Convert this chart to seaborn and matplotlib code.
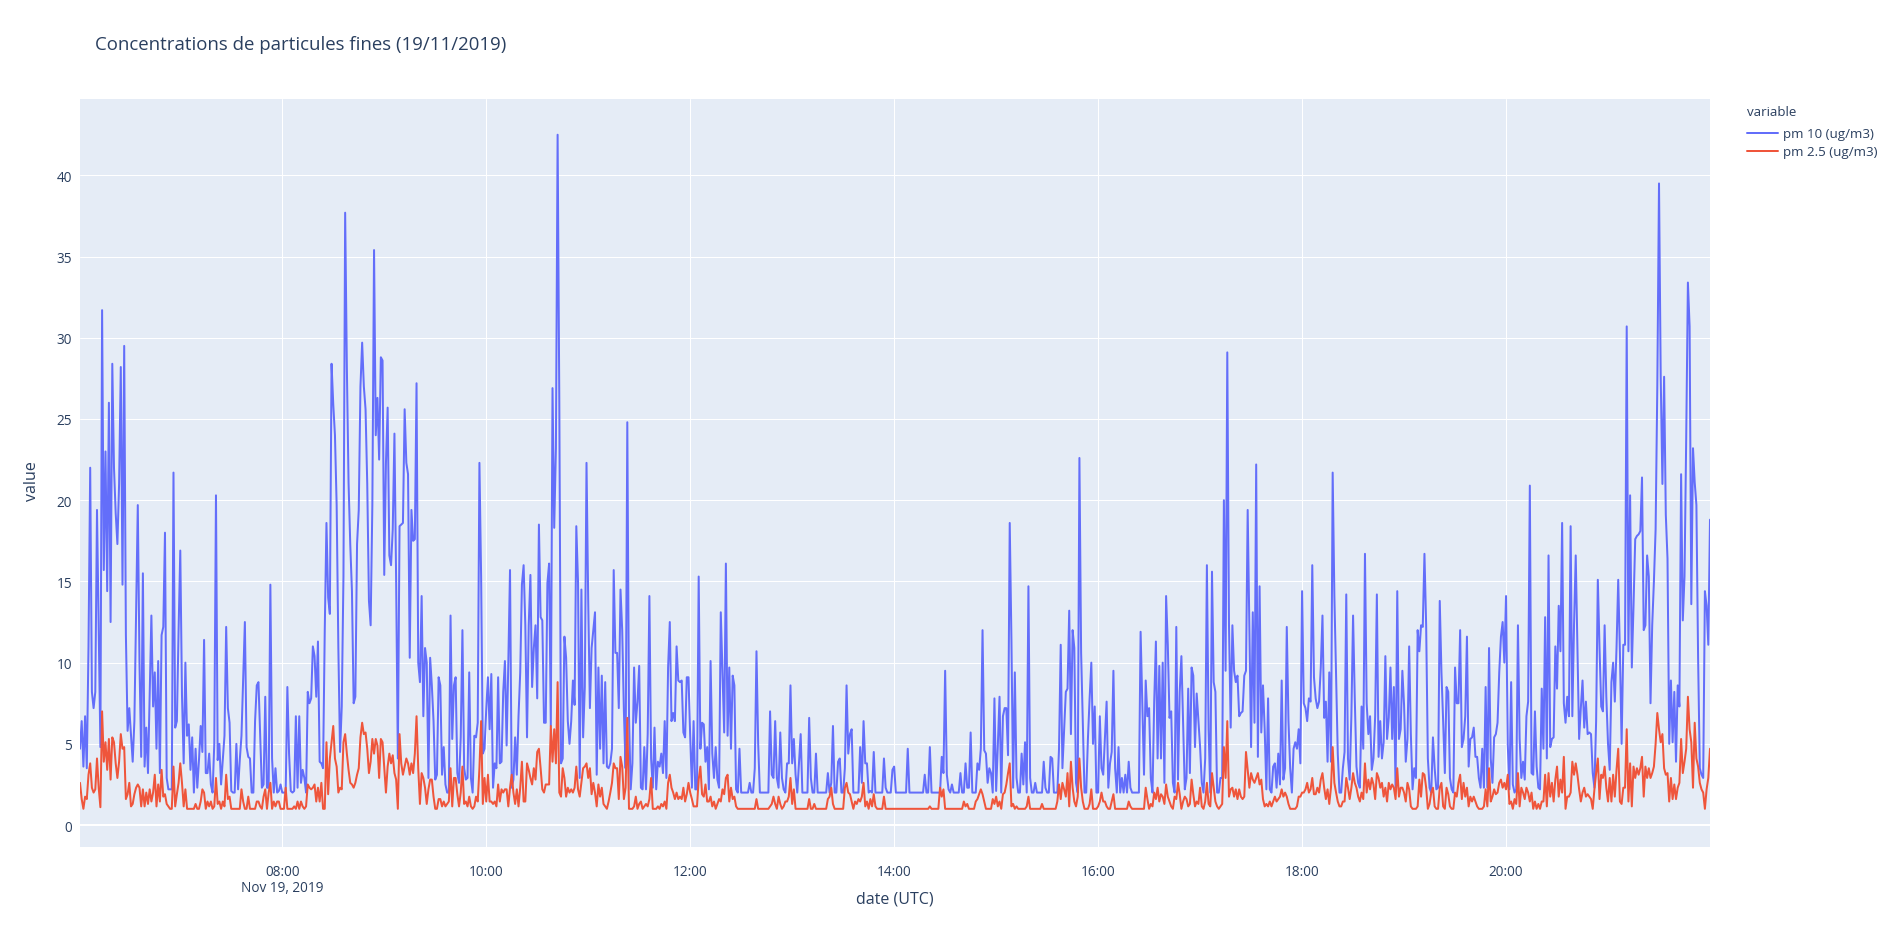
import numpy as np
import pandas as pd
import matplotlib
matplotlib.use("Agg")
import matplotlib.pyplot as plt
import matplotlib.dates as mdates
from matplotlib.ticker import FixedLocator, FixedFormatter
import seaborn as sns

# ---------------- data ----------------
title = "Concentrations de particules fines (19/11/2019)"
series_names = ["pm 10 (ug/m3)", "pm 2.5 (ug/m3)"]
start_time = "2019-11-19 06:01"   # one reading per minute
tick_hours = [8, 10, 12, 14, 16, 18, 20]
tick_labels = ["08:00\nNov 19, 2019", "10:00", "12:00", "14:00", "16:00", "18:00", "20:00"]
y_ticks = [0, 5, 10, 15, 20, 25, 30, 35, 40]

pm10 = [
    4.7, 6.4, 3.6, 6.7, 3.5, 11, 22, 8.2, 7.2, 8.2,
    19.4, 12, 4.8, 31.7, 15.7, 23, 14.4, 26, 12.5, 28.4,
    22, 19.2, 17.3, 21, 28.2, 14.8, 29.5, 11.7, 5.8, 7.2,
    5.5, 3.9, 6.4, 13, 19.7, 10, 4.2, 15.5, 3.6, 6,
    3.2, 8, 12.9, 7.3, 9.4, 4.7, 10.1, 3.2, 11.7, 12.2,
    18, 2.9, 2.2, 2.2, 2.2, 21.7, 6, 6.4, 12, 16.9,
    8, 3.8, 10, 5.5, 6.2, 3.4, 5.4, 2.0, 4.7, 2.3,
    4, 6.1, 4.5, 11.4, 3.2, 3.2, 4.4, 2.5, 2.0, 5,
    20.3, 4, 5, 2.5, 4, 5.5, 12.2, 7.2, 6.3, 2.1,
    2.0, 2.0, 5, 2.2, 4, 5.5, 9, 12.5, 4.8, 4.2,
    4.1, 2.0, 2.0, 6.4, 8.6, 8.8, 5.6, 2.3, 2.5, 7.9,
    2.3, 2.3, 14.8, 4.1, 2.0, 3.5, 2.0, 2.1, 2.5, 2.0,
    2.0, 2.0, 8.5, 4.4, 2.1, 2.0, 2.1, 6.7, 2.3, 6.7,
    2.6, 3.4, 2.9, 2.0, 8.2, 7.5, 7.8, 11.0, 10.4, 7.9,
    11.3, 3.9, 3.8, 3.5, 12, 18.6, 14.0, 13.0, 28.4, 25.9,
    24.0, 19.7, 10.9, 4.5, 7.3, 15.3, 37.7, 28.2, 21.1, 17.3,
    14.4, 7.5, 7.9, 17.3, 19.4, 27.0, 29.7, 27.0, 25.6, 21.0,
    13.8, 12.3, 19.7, 35.4, 24.0, 26.3, 22.5, 28.8, 28.6, 15.4,
    22.3, 25.7, 16.6, 16.0, 18.2, 24.1, 15.0, 4.1, 18.4, 18.5,
    18.6, 25.6, 22.3, 21.6, 10.3, 19.4, 17.5, 17.6, 27.2, 10.0,
    8.8, 14.1, 6.7, 10.9, 10.0, 2.9, 10.3, 8.6, 6.4, 2.8,
    3.1, 9.1, 8.6, 3.1, 4.8, 2.5, 2.0, 2.0, 12.9, 5.3,
    8.6, 9.1, 3.2, 2.6, 5.4, 12.0, 3.5, 2.8, 2.9, 9.4,
    2.9, 2.0, 5.5, 5.4, 6.3, 22.3, 15.3, 4.4, 4.7, 7.1,
    9.1, 5.9, 9.3, 2.3, 3.8, 3.5, 9.1, 3.8, 3.9, 8.2,
    10.1, 4.9, 10, 15.7, 2.3, 2.8, 5.4, 3.1, 6.7, 9.4,
    14.8, 16.0, 12.3, 5.4, 12.3, 15.4, 8.5, 10.9, 12.3, 7.8,
    18.5, 12.8, 12.6, 6.3, 6.3, 14.9, 16.1, 6.1, 26.9, 18.3,
    23.2, 42.5, 26.0, 3.8, 4.1, 11.6, 10.3, 6.4, 5.0, 6.4,
    8.9, 7.4, 18.4, 15.0, 2.9, 14.5, 5.4, 8.5, 22.3, 13.8,
    7.2, 10.9, 12.0, 13.1, 3.1, 9.7, 4.7, 9.2, 3.8, 8.8,
    3.6, 3.5, 3.8, 4.7, 15.7, 10.6, 10.6, 7.2, 14.5, 12.0,
    7.0, 3.5, 24.8, 6.7, 2.2, 3.8, 9.7, 6.3, 7.6, 9.8,
    2.3, 2.2, 4.8, 2.2, 5.6, 14.1, 4.1, 2.3, 6.0, 2.2,
    3.9, 3.6, 4.4, 3.2, 6.4, 2.9, 9.7, 12.5, 6.4, 6.9,
    6.4, 11.0, 8.9, 8.8, 8.9, 5.7, 5.4, 9.1, 9.1, 5.5,
    2.3, 6.4, 2.2, 2.2, 15.3, 4.7, 6.3, 6.2, 3.9, 4.8,
    2.2, 10.1, 4.4, 2.9, 4.8, 2.8, 2.3, 13.1, 9.4, 5.7,
    16.1, 5.5, 9.7, 4.7, 9.2, 8.6, 2.2, 2.0, 4.7, 2.0,
    2.0, 2.0, 2.0, 2.0, 2.6, 2.0, 2.0, 3.5, 10.7, 5.0,
    2.0, 2.0, 2.0, 2.0, 2.0, 2.0, 7.0, 3.1, 2.9, 6.4,
    2.9, 2.3, 5.7, 2.9, 2.2, 2.0, 3.8, 3.8, 8.6, 3.8,
    5.3, 3.1, 2.0, 3.8, 5.6, 2.0, 2.0, 2.0, 2.0, 6.6,
    2.9, 2.0, 2.0, 4.4, 2.0, 2.0, 2.0, 2.0, 2.0, 2.0,
    3.2, 2.0, 2.6, 6.1, 2.0, 2.0, 3.9, 4.1, 2.0, 2.0,
    3.5, 8.6, 4.4, 5.6, 5.9, 2.0, 2.0, 2.0, 2.0, 4.8,
    2.6, 6.4, 3.8, 3.8, 2.0, 2.1, 2.0, 4.5, 2.0, 2.0,
    2.0, 2.0, 2.0, 4.1, 2.3, 2.0, 2.0, 2.0, 3.4, 3.6,
    2.0, 2.0, 2.0, 2.0, 2.0, 2.0, 2.0, 4.7, 2.0, 2.0,
    2.0, 2.0, 2.0, 2.0, 2.0, 2.0, 2.0, 3.1, 2.0, 2.0,
    4.8, 2.0, 2.0, 2.0, 2.0, 2.0, 2.0, 4.2, 3.2, 9.5,
    3.1, 2.2, 2.0, 2.5, 2.0, 2.0, 2.0, 2.0, 3.2, 2.0,
    2.0, 3.8, 2.3, 2.3, 5.7, 2.0, 2.0, 2.0, 3.8, 3.4,
    4.7, 12.0, 4.6, 4.4, 2.6, 3.5, 3.2, 2.0, 7.8, 2.1,
    4.9, 7.9, 2.0, 6.7, 7.2, 7.2, 4.3, 18.6, 11.4, 2.3,
    9.4, 2.9, 2.0, 2.0, 4.4, 2.5, 5.1, 2.0, 14.7, 2.9,
    2.0, 2.0, 2.6, 2.0, 2.0, 2.0, 2.0, 3.9, 2.3, 2.0,
    2.0, 4.2, 4.1, 2.0, 2.0, 2.0, 4.7, 11.1, 3.5, 5.9,
    8.2, 8.4, 13.2, 5.6, 12.0, 10.9, 2.6, 2.0, 22.6, 10.6,
    6.4, 2.0, 2.0, 5.3, 7.8, 10.0, 5.0, 7.3, 2.0, 2.0,
    6.7, 3.5, 3.1, 5.3, 7.6, 2.3, 3.8, 4.5, 9.5, 3.5,
    2.0, 4.8, 2.0, 2.9, 2.0, 3.1, 2.0, 3.9, 2.3, 2.0,
    2.0, 2.0, 2.0, 2.0, 11.9, 7.6, 3.1, 8.9, 6.7, 7.2,
    2.9, 2.0, 7.6, 11.3, 4.1, 9.8, 4.1, 10.0, 2.6, 14.1,
    11.1, 6.6, 7.0, 2.6, 2.0, 12.2, 2.8, 8.2, 10.4, 6.4,
    2.2, 2.9, 8.4, 3.2, 9.7, 9.2, 4.8, 8.1, 6.4, 4.8,
    2.6, 2.0, 4.1, 16.0, 5.9, 2.0, 15.6, 8.8, 8.2, 2.0,
    2.0, 2.9, 2.9, 20.0, 9.5, 29.1, 12.3, 6.0, 12.3, 9.5,
    8.8, 9.2, 6.7, 6.9, 7.0, 9.2, 9.5, 19.4, 12.3, 4.8,
    13.1, 6.3, 22.2, 4.2, 14.7, 5.7, 8.6, 5.9, 2.2, 7.8,
    2.2, 2.0, 3.6, 3.8, 2.3, 4.4, 2.5, 8.9, 2.8, 3.5,
    12.2, 6.4, 3.5, 2.0, 4.7, 5.1, 4.7, 5.9, 3.8, 14.4,
    7.5, 7.2, 6.4, 7.8, 7.6, 16.0, 9.1, 7.8, 7.2, 7.6,
    9.7, 12.9, 6.6, 7.6, 3.9, 9.4, 3.9, 21.7, 14.1, 9.4,
    4.4, 2.0, 2.0, 3.5, 4.5, 14.2, 4.1, 2.8, 6.7, 12.9,
    7.8, 3.6, 2.6, 2.3, 7.3, 4.7, 16.7, 7.5, 5.6, 6.7,
    3.4, 4.1, 6.7, 14.2, 4.2, 6.4, 4.1, 5.1, 10.4, 5.3,
    6.6, 9.7, 5.3, 8.5, 2.3, 14.4, 5.3, 5.9, 9.5, 7.4,
    3.9, 5.3, 11.0, 5.6, 2.2, 3.5, 2.9, 12.0, 10.7, 12.3,
    12.2, 16.7, 12.3, 4.1, 2.3, 2.0, 5.4, 3.5, 2.2, 2.3,
    13.8, 9.4, 6.4, 3.2, 8.5, 8.2, 2.9, 2.2, 2.0, 9.7,
    7.5, 7.5, 12.0, 4.8, 5.3, 6.7, 11.6, 3.6, 5.3, 5.4,
    6.0, 4.2, 4.2, 2.9, 2.3, 4.7, 2.3, 8.5, 2.3, 10.9,
    4.1, 2.6, 5.4, 5.6, 6.3, 9.4, 11.6, 12.5, 10.0, 14.1,
    5.0, 2.2, 8.8, 2.5, 2.0, 2.2, 12.3, 5.3, 2.9, 3.9,
    2.8, 6.7, 7.6, 20.9, 3.2, 3.1, 7.0, 3.6, 2.3, 2.2,
    8.4, 4.7, 12.8, 4.1, 16.6, 4.8, 5.3, 5.4, 11.0, 8.4,
    13.5, 10.7, 18.6, 7.5, 6.3, 7.9, 6.7, 18.4, 6.7, 12.3,
    16.6, 11.1, 5.3, 7.2, 8.9, 6.0, 7.6, 5.6, 5.7, 5.6,
    3.2, 2.3, 6.4, 15.1, 10.9, 7.3, 7.0, 12.3, 7.9, 5.0,
    3.4, 8.8, 10.0, 7.6, 10.9, 15.1, 10.6, 5.0, 11.1, 11.1,
    30.7, 10.7, 20.3, 9.7, 13.5, 17.6, 17.8, 17.9, 18.1, 21.4,
    12.0, 12.3, 16.6, 15.3, 7.5, 12.3, 15.0, 18.2, 27.0, 39.5,
    27.6, 21.0, 27.6, 19.1, 16.4, 5.0, 8.9, 5.1, 8.2, 3.9,
    8.6, 7.3, 21.6, 12.6, 15.3, 23.8, 33.4, 30.7, 13.6, 23.2,
    21.1, 19.7, 10.3, 3.5, 3.1, 2.9, 14.4, 13.5, 11.1, 18.8,
]

pm25 = [
    2.6, 1.6, 1.0, 1.75, 1.6, 3.1, 3.8, 2.3, 2.0, 2.2,
    4.1, 2.3, 1.1, 7.0, 3.9, 5.1, 3.4, 5.3, 2.8, 5.4,
    5.1, 3.8, 2.9, 3.9, 5.6, 4.7, 4.8, 1.6, 1.9, 2.6,
    1.15, 1.3, 1.9, 2.3, 2.5, 2.3, 1.15, 2.2, 1.15, 2.0,
    1.3, 2.2, 1.45, 2.0, 3.1, 1.15, 2.5, 1.45, 3.4, 1.75,
    1.9, 1.3, 1.15, 1.0, 1.0, 3.6, 1.15, 1.9, 2.6, 3.8,
    2.6, 1.15, 2.2, 1.0, 1.0, 1.0, 1.0, 1.0, 1.3, 1.0,
    1.0, 1.45, 2.2, 2.0, 1.0, 1.45, 1.15, 1.45, 1.0, 1.15,
    2.9, 1.3, 1.45, 1.0, 1.45, 1.15, 3.1, 1.6, 1.75, 1.0,
    1.0, 1.0, 1.0, 1.0, 1.0, 2.2, 1.45, 1.0, 1.0, 1.75,
    1.0, 1.0, 1.0, 1.0, 1.45, 1.45, 1.15, 1.0, 1.75, 2.2,
    1.0, 2.0, 2.6, 1.0, 1.45, 1.15, 1.45, 1.45, 1.0, 1.0,
    1.0, 2.3, 1.0, 1.0, 1.0, 1.0, 1.15, 1.0, 1.45, 1.0,
    1.45, 1.15, 1.0, 1.15, 2.5, 2.3, 2.2, 2.3, 2.5, 1.45,
    2.3, 1.45, 2.6, 1.0, 1.0, 5.1, 1.9, 4.1, 5.1, 6.1,
    4.1, 3.6, 2.0, 2.3, 2.2, 5.1, 5.6, 4.4, 3.4, 2.6,
    2.5, 2.3, 2.6, 3.1, 3.5, 5.4, 6.3, 5.6, 5.7, 4.7,
    3.2, 3.9, 5.3, 4.4, 5.3, 4.9, 2.9, 5.3, 5.1, 3.5,
    2.0, 3.6, 4.4, 3.8, 4.3, 3.2, 2.8, 1.0, 5.6, 3.8,
    3.1, 3.6, 4.1, 3.8, 3.1, 3.8, 3.2, 4.4, 6.7, 3.5,
    1.3, 3.2, 2.9, 2.3, 1.3, 2.2, 2.8, 2.8, 1.75, 1.0,
    1.0, 1.6, 1.6, 1.15, 1.45, 1.15, 1.3, 1.45, 3.5, 1.15,
    2.9, 2.9, 1.9, 1.15, 2.0, 3.6, 1.3, 1.45, 1.15, 1.75,
    1.15, 1.0, 1.15, 1.75, 1.45, 3.5, 6.4, 1.3, 2.9, 1.45,
    3.1, 1.45, 1.45, 1.3, 1.45, 1.15, 2.5, 1.45, 2.2, 2.0,
    2.2, 2.2, 1.15, 2.3, 3.1, 2.0, 1.3, 2.2, 1.15, 2.3,
    3.9, 1.45, 1.45, 3.8, 3.4, 2.9, 2.5, 3.5, 2.8, 4.5,
    4.7, 3.5, 2.2, 2.0, 2.5, 2.5, 2.5, 6.1, 3.9, 5.9,
    3.8, 8.8, 2.0, 1.75, 3.5, 2.9, 1.75, 2.3, 2.0, 2.2,
    2.0, 2.3, 3.6, 2.2, 1.75, 2.6, 3.5, 3.6, 3.8, 2.9,
    3.5, 1.9, 2.6, 2.0, 1.15, 2.5, 1.75, 2.3, 1.3, 1.15,
    1.0, 1.45, 2.0, 2.6, 3.8, 3.5, 3.5, 1.6, 4.2, 3.6,
    1.6, 2.3, 6.6, 1.0, 1.0, 1.0, 1.15, 1.75, 1.0, 1.3,
    1.45, 1.0, 1.15, 1.3, 1.15, 1.6, 2.9, 1.0, 1.0, 1.0,
    1.15, 1.0, 1.3, 1.15, 1.45, 1.0, 2.6, 3.1, 2.3, 2.0,
    1.6, 2.0, 1.6, 1.75, 1.6, 2.3, 1.45, 1.9, 2.6, 2.0,
    1.6, 1.15, 1.15, 1.15, 2.8, 3.6, 1.9, 1.75, 2.5, 1.45,
    1.45, 1.75, 1.15, 1.45, 1.0, 1.3, 1.6, 1.45, 2.2, 1.9,
    2.9, 3.1, 1.45, 2.3, 1.6, 1.75, 1.15, 1.0, 1.0, 1.0,
    1.0, 1.0, 1.0, 1.0, 1.0, 1.0, 1.0, 1.0, 1.6, 1.0,
    1.0, 1.0, 1.0, 1.0, 1.0, 1.0, 1.15, 1.3, 1.75, 1.3,
    1.0, 1.75, 1.3, 1.0, 1.15, 1.45, 1.45, 1.75, 2.9, 1.3,
    2.2, 1.0, 1.0, 1.0, 1.0, 1.0, 1.0, 1.0, 1.0, 1.6,
    1.0, 1.0, 1.3, 1.0, 1.0, 1.0, 1.0, 1.0, 1.0, 1.0,
    1.6, 1.75, 2.3, 1.3, 1.0, 1.0, 1.0, 1.0, 1.0, 1.0,
    2.3, 2.6, 2.0, 1.9, 1.45, 1.0, 1.45, 1.3, 1.6, 1.45,
    1.75, 2.6, 1.15, 1.45, 1.0, 1.6, 1.15, 1.9, 1.15, 1.0,
    1.0, 1.0, 1.0, 1.75, 1.0, 1.0, 1.0, 1.0, 1.0, 1.0,
    1.0, 1.0, 1.0, 1.0, 1.0, 1.0, 1.0, 1.0, 1.0, 1.0,
    1.0, 1.0, 1.0, 1.0, 1.0, 1.0, 1.0, 1.0, 1.0, 1.0,
    1.15, 1.0, 1.0, 1.0, 1.0, 1.0, 2.3, 1.75, 2.2, 1.0,
    1.0, 1.0, 1.0, 1.0, 1.0, 1.0, 1.0, 1.0, 1.0, 1.0,
    1.45, 1.15, 1.3, 1.0, 1.0, 1.0, 1.0, 1.45, 1.6, 1.9,
    2.2, 1.9, 1.45, 1.0, 1.0, 1.0, 1.0, 1.6, 1.3, 1.75,
    1.15, 1.45, 1.0, 1.9, 2.0, 2.5, 3.2, 3.8, 1.15, 1.3,
    1.0, 1.15, 1.0, 1.0, 1.0, 1.0, 1.0, 1.15, 1.75, 1.0,
    1.0, 1.0, 1.0, 1.0, 1.0, 1.0, 1.3, 1.0, 1.0, 1.0,
    1.0, 1.0, 1.0, 1.0, 1.0, 1.45, 2.5, 1.6, 2.6, 2.2,
    1.75, 3.2, 1.15, 3.9, 2.3, 1.45, 1.15, 1.75, 4.1, 2.3,
    1.45, 1.0, 1.0, 1.0, 1.3, 2.2, 1.0, 1.0, 1.0, 1.15,
    1.45, 2.0, 1.45, 1.45, 1.15, 1.0, 1.0, 1.45, 1.9, 1.0,
    1.0, 1.0, 1.0, 1.0, 1.0, 1.0, 1.0, 1.45, 1.15, 1.0,
    1.0, 1.0, 1.0, 1.0, 1.0, 1.0, 1.0, 2.3, 1.6, 1.0,
    1.3, 1.15, 2.0, 1.6, 2.3, 1.45, 1.9, 1.75, 1.3, 2.5,
    1.75, 1.45, 1.15, 1.0, 1.75, 1.6, 2.6, 1.9, 1.0, 1.45,
    1.75, 1.6, 1.15, 1.3, 2.8, 1.9, 1.15, 1.45, 1.3, 2.3,
    1.15, 1.0, 1.45, 2.6, 1.3, 1.15, 3.2, 2.3, 1.45, 1.15,
    1.0, 1.15, 1.3, 4.8, 2.9, 6.4, 1.75, 2.2, 2.3, 1.75,
    2.2, 1.6, 2.2, 1.75, 1.6, 1.75, 4.5, 3.4, 2.3, 3.2,
    2.8, 2.6, 2.9, 3.2, 2.5, 2.8, 1.6, 1.15, 1.3, 1.15,
    1.45, 1.15, 1.45, 1.75, 1.45, 1.6, 1.75, 2.2, 1.75, 2.0,
    1.75, 1.3, 1.0, 1.0, 1.0, 1.0, 1.15, 1.75, 1.75, 2.0,
    2.0, 2.2, 2.6, 2.0, 2.2, 2.9, 1.9, 1.9, 2.3, 2.0,
    2.8, 3.2, 2.3, 1.6, 2.2, 1.3, 2.3, 4.8, 2.6, 2.0,
    1.45, 1.15, 1.15, 1.45, 1.45, 2.9, 2.3, 1.6, 2.3, 3.2,
    2.6, 2.3, 1.75, 1.45, 2.0, 1.6, 3.8, 2.0, 2.8, 2.2,
    2.9, 2.5, 1.6, 3.2, 2.9, 2.3, 2.6, 1.75, 2.3, 1.45,
    2.6, 2.2, 2.5, 2.3, 1.6, 3.5, 1.75, 2.3, 2.3, 2.0,
    1.45, 2.6, 2.2, 1.15, 1.0, 1.0, 1.0, 1.15, 2.8, 1.75,
    3.2, 3.1, 2.3, 1.0, 1.3, 2.0, 2.3, 1.15, 1.0, 1.0,
    2.3, 2.6, 1.15, 1.0, 2.3, 1.9, 1.15, 1.0, 1.0, 2.0,
    1.75, 2.6, 3.1, 1.6, 2.6, 1.75, 2.3, 1.15, 1.75, 1.45,
    1.75, 1.45, 1.15, 1.0, 1.0, 1.0, 1.15, 2.2, 1.15, 3.5,
    1.45, 1.75, 2.2, 1.9, 2.0, 2.6, 2.8, 2.3, 2.6, 2.2,
    3.1, 1.3, 1.45, 1.0, 1.6, 1.3, 3.2, 1.15, 2.3, 2.0,
    1.6, 2.3, 2.0, 1.45, 2.0, 1.0, 1.45, 1.0, 1.3, 1.0,
    1.45, 1.45, 3.1, 1.15, 3.2, 1.75, 2.6, 1.45, 2.8, 3.6,
    1.75, 2.8, 2.0, 4.2, 1.0, 1.75, 1.75, 2.0, 3.9, 3.1,
    3.8, 3.1, 2.2, 1.45, 2.0, 2.3, 1.75, 1.9, 1.75, 1.6,
    1.0, 2.2, 3.2, 4.1, 1.6, 3.1, 2.9, 3.6, 2.3, 1.45,
    2.9, 1.45, 3.1, 1.75, 3.4, 4.7, 1.45, 1.3, 2.3, 2.3,
    5.9, 1.45, 3.8, 1.15, 3.6, 2.9, 3.5, 3.1, 3.5, 4.2,
    1.75, 3.6, 2.9, 3.5, 2.9, 3.2, 3.6, 5.0, 6.9, 5.9,
    5.1, 5.6, 3.5, 3.1, 3.2, 1.45, 2.9, 1.6, 2.5, 1.6,
    2.3, 2.6, 5.3, 3.2, 3.9, 4.7, 7.9, 5.9, 5.1, 2.3,
    6.3, 4.1, 3.6, 2.6, 2.2, 2.0, 1.0, 2.2, 2.9, 4.7,
]

# ---------------- style ----------------
PX = 0.72  # points per pixel at dpi 100
TEXT = "#2a3f5f"
colors = ["#636EFA", "#EF553B"]

sns.set_theme(style="white")
plt.rcParams["font.family"] = ["Open Sans", "DejaVu Sans"]
plt.rcParams["text.color"] = TEXT
plt.rcParams["axes.labelcolor"] = TEXT
plt.rcParams["xtick.color"] = TEXT
plt.rcParams["ytick.color"] = TEXT

TITLE_PX, TICK_PX, AXT_PX, LEG_PX = 18.6, 13.6, 16.0, 13.4

frames = []
for name, vals in zip(series_names, [pm10, pm25]):
    t = pd.date_range(start_time, periods=len(vals), freq="min")
    frames.append(pd.DataFrame({"date (UTC)": t, "value": vals, "variable": name}))
df = pd.concat(frames, ignore_index=True)

W, H = 1904, 928
fig = plt.figure(figsize=(W / 100, H / 100), dpi=100)
fig.patch.set_facecolor("white")
L, R, T, B = 80, 1710, 100, 848
ax = fig.add_axes([L / W, 1 - B / H, (R - L) / W, (B - T) / H])
ax.set_facecolor("#E5ECF6")

sns.lineplot(data=df, x="date (UTC)", y="value", hue="variable",
             palette=colors, linewidth=2 * PX, estimator=None, sort=False,
             ax=ax, zorder=3)

for s in ax.spines.values():
    s.set_visible(False)

t0 = df["date (UTC)"].min()
t1 = df["date (UTC)"].max()
ax.set_xlim(t0, t1)
ax.set_ylim(-1.35, 44.7)

day = pd.Timestamp("2019-11-19")
xt = [mdates.date2num(day + pd.Timedelta(hours=h)) for h in tick_hours]
ax.xaxis.set_major_locator(FixedLocator(xt))
ax.xaxis.set_major_formatter(FixedFormatter(tick_labels))
ax.set_yticks(y_ticks)
ax.set_yticklabels([str(v) for v in y_ticks])

ax.grid(True, color="white", linewidth=1 * PX, zorder=0)
ax.set_axisbelow(True)
ax.axhline(0, color="white", linewidth=2 * PX, zorder=1)
ax.tick_params(axis="both", length=0, labelsize=TICK_PX * PX)
ax.tick_params(axis="x", pad=17 * PX)
ax.tick_params(axis="y", pad=8 * PX)
for lab in ax.get_xticklabels():
    lab.set_linespacing(1.1)

ax.set_xlabel("date (UTC)", fontsize=AXT_PX * PX)
ax.set_ylabel("value", fontsize=AXT_PX * PX)
ax.xaxis.label.set_verticalalignment("center")
ax.yaxis.label.set_verticalalignment("center")
ax.xaxis.set_label_coords(0.5, 1 - (900 - T) / (B - T))
ax.yaxis.set_label_coords((32 - L) / (R - L), 1 - (481 - T) / (B - T))

fig.text(95 / W, 1 - 45 / H, title, fontsize=TITLE_PX * PX, color=TEXT,
         ha="left", va="center")

LSP = 0.39
sns.move_legend(ax, "upper left", bbox_to_anchor=(1747 / W, 1 - 106 / H),
                bbox_transform=fig.transFigure, frameon=False,
                title="variable", fontsize=LEG_PX * PX, title_fontsize=LEG_PX * PX,
                handlelength=2.3, handletextpad=0.35, labelspacing=LSP,
                borderaxespad=0, borderpad=0)
leg = ax.get_legend()
leg._legend_box.align = "left"
leg._legend_box.sep = LSP * LEG_PX * PX + 4 * PX
for line in leg.get_lines():
    line.set_linewidth(2 * PX)

fig.savefig("out.png", dpi=100, facecolor="white")
